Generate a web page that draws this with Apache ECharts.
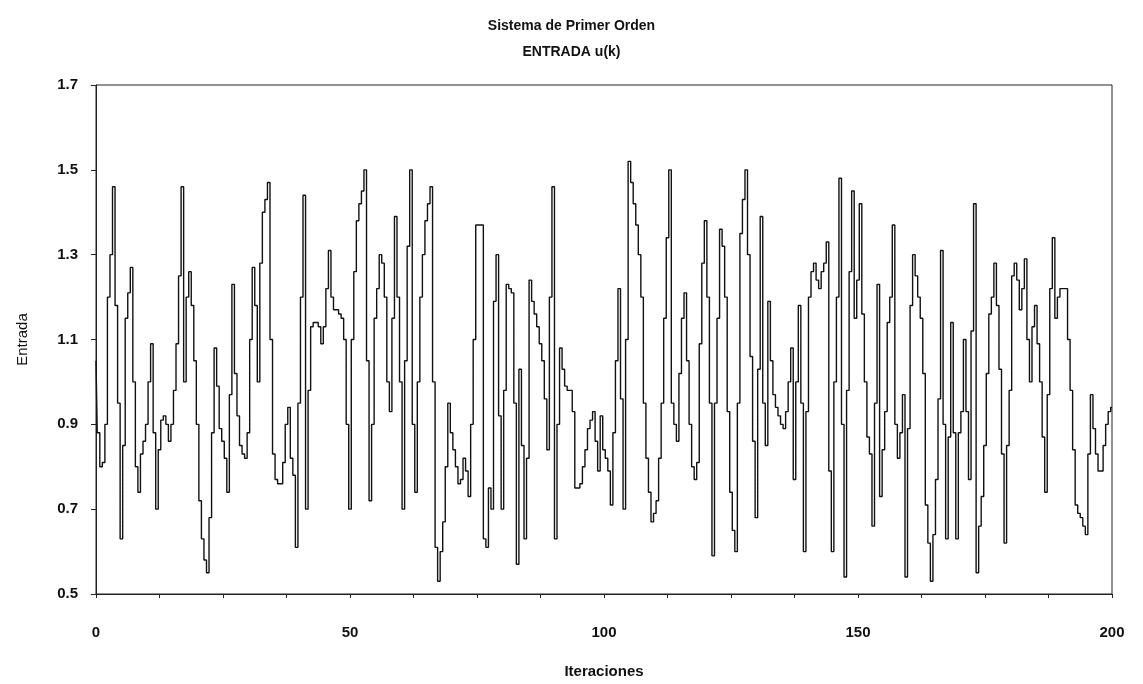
<!DOCTYPE html>
<html lang="es">
  <head>
    <meta charset="UTF-8" />
    <title>Sistema de Primer Orden</title>
    <style>
      html, body { margin: 0; padding: 0; background: #fff; }
      #grafico { width: 1143px; height: 684px; }
    </style>
  </head>
  <body>
    <div id="grafico"></div>
    <script src="https://cdn.jsdelivr.net/npm/echarts@6/dist/echarts.min.js"></script>
    <script>
      // paso entre muestras (iteraciones)
      var paso = 0.5;
      // marcas del eje x y del eje y
      var xTicks = [0, 50, 100, 150, 200];
      var yTicks = [0.5, 0.7, 0.9, 1.1, 1.3, 1.5, 1.7];
      // entrada u(k), una muestra cada 0.5 iteraciones
      var entrada = [
        1.05, 0.88, 0.80, 0.81, 0.90, 1.20, 1.30, 1.46, 1.18, 0.95,
        0.63, 0.85, 1.15, 1.21, 1.27, 1.00, 0.80, 0.74, 0.83, 0.86,
        0.90, 1.00, 1.09, 0.88, 0.70, 0.84, 0.91, 0.92, 0.90, 0.86,
        0.90, 0.98, 1.09, 1.25, 1.46,
        1.00, 1.20, 1.26, 1.18, 1.05, 0.90, 0.72, 0.63, 0.58, 0.55,
        0.68, 0.88, 1.08, 0.99, 0.89, 0.86, 0.82, 0.74, 0.97, 1.23,
        1.02, 0.92, 0.85, 0.83, 0.82, 0.88, 1.10, 1.27, 1.18, 1.00,
        1.28, 1.40, 1.43, 1.47, 1.10, 0.83,
        0.77, 0.76, 0.76, 0.81, 0.90, 0.94, 0.82, 0.78, 0.61, 0.95,
        1.20, 1.44, 0.70, 0.98, 1.13, 1.14, 1.14, 1.13, 1.09, 1.13,
        1.22, 1.31, 1.20, 1.17, 1.17, 1.16, 1.15, 1.10, 0.90, 0.70,
        1.10, 1.26, 1.38, 1.42, 1.45, 1.50, 1.05, 0.72, 0.90, 1.15,
        1.22, 1.30,
        1.28, 1.20, 1.00, 0.93, 1.15, 1.39, 1.20, 1.00, 0.70, 1.05,
        1.32, 1.50, 0.90, 0.74, 1.00, 1.20, 1.30, 1.38, 1.42, 1.46,
        1.00, 0.61, 0.53, 0.60, 0.67, 0.80, 0.95, 0.88, 0.84, 0.80,
        0.76, 0.77, 0.82, 0.79, 0.73, 0.90, 1.10, 1.37, 1.37, 1.37,
        0.63,
        0.61, 0.75, 0.70, 1.19, 1.30, 0.92, 0.70, 0.98, 1.23, 1.22,
        1.21, 0.95, 0.57, 1.03, 0.85, 0.63, 0.82, 1.24, 1.19, 1.16,
        1.13, 1.09, 1.05, 0.96, 0.84, 1.20, 1.46, 0.63, 0.90, 1.08,
        1.03, 0.99, 0.98, 0.98, 0.93, 0.75, 0.75, 0.76, 0.80, 0.84,
        0.89,
        0.91, 0.93, 0.86, 0.79, 0.92, 0.84, 0.82, 0.79, 0.71, 0.88,
        1.05, 1.22, 0.96, 0.70, 1.10, 1.52, 1.47, 1.42, 1.37, 1.30,
        1.20, 0.95, 0.82, 0.74, 0.67, 0.69, 0.72, 0.82, 0.95, 1.15,
        1.34, 1.50, 0.95, 0.90, 0.86, 1.02, 1.15, 1.21, 1.05, 0.90,
        0.80, 0.77,
        0.81, 1.09, 1.28, 1.38, 1.20, 0.95, 0.59, 0.95, 1.15, 1.36,
        1.32, 1.20, 0.93, 0.74, 0.65, 0.60, 0.95, 1.35, 1.43, 1.50,
        1.30, 1.06, 0.86, 0.68, 1.03, 1.39, 0.95, 0.85, 1.19, 1.05,
        0.97, 0.94, 0.92, 0.90, 0.89, 0.93, 1.00, 1.08, 0.77, 1.00,
        1.18,
        0.95, 0.60, 0.93, 1.20, 1.26, 1.28, 1.24, 1.22, 1.26, 1.28,
        1.33, 0.79, 0.60, 1.00, 1.20, 1.48, 0.90, 0.54, 0.98, 1.26,
        1.45, 1.15, 1.24, 1.42, 1.16, 1.00, 0.87, 0.83, 0.66, 0.95,
        1.23, 0.73, 0.84, 0.93, 1.14, 1.20, 1.37, 0.90, 0.82, 0.88,
        0.97, 0.54,
        0.89, 1.18, 1.30, 1.25, 1.20, 1.15, 1.02, 0.71, 0.62, 0.53,
        0.64, 0.77, 0.96, 1.31, 0.90, 0.63, 0.87, 1.14, 0.88, 0.63,
        0.88, 0.93, 1.10, 0.93, 0.77, 1.12, 1.42, 0.55, 0.66, 0.73,
        0.85, 1.02, 1.16, 1.20, 1.28, 1.18, 1.03, 0.83, 0.62, 0.85,
        0.98,
        1.25, 1.28, 1.24, 1.17, 1.22, 1.29, 1.10, 1.00, 1.13, 1.18,
        1.09, 1.00, 0.87, 0.74, 0.97, 1.22, 1.34, 1.15, 1.20, 1.22,
        1.22, 1.22, 1.10, 0.98, 0.84, 0.71, 0.69, 0.68, 0.66, 0.64,
        0.83, 0.97, 0.89, 0.83, 0.79, 0.79, 0.85, 0.90, 0.93, 0.94
      ];

      var dom = document.getElementById("grafico");
      var myChart = echarts.init(dom);

      // pares [iteracion, entrada]
      var datos = [];
      for (var i = 0; i < entrada.length; i++) {
        datos.push([i * paso, entrada[i]]);
      }

      var fuente = "'Liberation Sans', Arial, sans-serif";

      var option = {
        animation: false,
        backgroundColor: "#fff",
        title: {
          text: "Sistema de Primer Orden\nENTRADA u(k)",
          left: "center",
          top: 8,
          textStyle: {
            fontFamily: fuente,
            fontSize: 14,
            fontWeight: "bold",
            color: "#111",
            lineHeight: 26,
          },
        },
        grid: {
          left: 96,
          right: 31,
          top: 85,
          bottom: 89,
          show: true,
          borderColor: "#222",
          borderWidth: 1,
          backgroundColor: "#fff",
        },
        xAxis: {
          type: "value",
          min: xTicks[0],
          max: xTicks[xTicks.length - 1],
          interval: 12.5,
          name: "Iteraciones",
          nameLocation: "middle",
          nameGap: 70,
          nameTextStyle: {
            fontFamily: fuente,
            fontSize: 15,
            fontWeight: "bold",
            color: "#111",
          },
          axisLine: { lineStyle: { color: "#222", width: 1 } },
          axisTick: { show: true, length: 4, lineStyle: { color: "#222" } },
          axisLabel: {
            margin: 31,
            fontFamily: fuente,
            fontSize: 15,
            fontWeight: "bold",
            color: "#111",
            formatter: function (v) {
              return xTicks.indexOf(v) >= 0 ? String(v) : "";
            },
          },
          splitLine: { show: false },
        },
        yAxis: {
          type: "value",
          min: yTicks[0],
          max: yTicks[yTicks.length - 1],
          interval: 0.2,
          name: "Entrada",
          nameLocation: "middle",
          nameGap: 66,
          nameTextStyle: {
            fontFamily: fuente,
            fontSize: 15,
            color: "#111",
          },
          axisLine: { show: true, lineStyle: { color: "#222", width: 1 } },
          axisTick: { show: true, length: 5, lineStyle: { color: "#222" } },
          axisLabel: {
            margin: 18,
            fontFamily: fuente,
            fontSize: 15,
            fontWeight: "bold",
            color: "#111",
            formatter: function (v) {
              return v.toFixed(1);
            },
          },
          splitLine: { show: false },
        },
        series: [
          {
            type: "line",
            data: datos,
            step: "middle",
            showSymbol: false,
            lineStyle: { color: "#111", width: 1.4 },
          },
        ],
      };

      myChart.setOption(option);
    </script>
  </body>
</html>
